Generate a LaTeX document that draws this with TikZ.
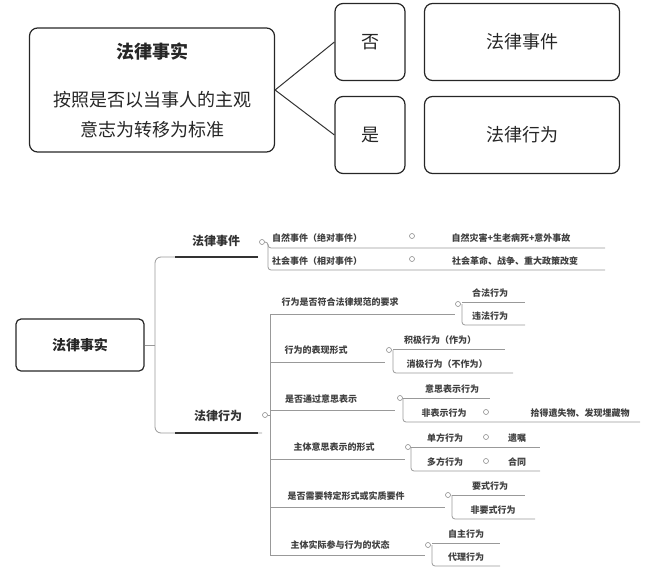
\documentclass[tikz,border=0pt]{standalone}
\usepackage{fontspec}
\setmainfont{Noto Sans CJK SC}
\begin{document}
\begin{tikzpicture}[x=1pt,y=-1pt,
  box/.style={draw=black!85,line width=1.2pt,rounded corners=8pt},
  big/.style={font=\fontsize{18}{20}\selectfont,text=black!85},
  sm/.style={font=\bfseries\fontsize{9}{10}\selectfont,text=black!75,inner sep=0pt},
  ln/.style={draw=black!40,line width=0.8pt,rounded corners=3pt},
  dot/.style={circle,draw=black!45,line width=0.6pt,minimum size=5pt,inner sep=0pt},
  hl/.style={draw=black!80,line width=2pt}]
\useasboundingbox (0,0) rectangle (651,581);
% top part
\node[box,minimum width=245pt,minimum height=124pt] (fs) at (152,90) {};
\node[big,font=\bfseries\fontsize{18}{20}\selectfont] at (152,52) {法律事实};
\node[big] at (152,100) {按照是否以当事人的主观};
\node[big] at (152,130) {意志为转移为标准};
\node[box,minimum width=70pt,minimum height=77pt,big] (no) at (370,42) {否};
\node[box,minimum width=70pt,minimum height=77pt,big] (yes) at (370,135) {是};
\node[box,minimum width=195pt,minimum height=77pt,big] (ev) at (522,42) {法律事件};
\node[box,minimum width=195pt,minimum height=77pt,big] (ac) at (522,135) {法律行为};
\draw[black!80,line width=1pt] (fs.east) -- (no.west);
\draw[black!80,line width=1pt] (fs.east) -- (yes.west);
% bottom root
\node[draw=black!85,line width=1.2pt,rounded corners=5pt,minimum width=128pt,minimum height=52pt,
  font=\bfseries\fontsize{14}{16}\selectfont,text=black!85] (root) at (80,345) {法律事实};
\draw[ln,rounded corners=6pt] (258,257) -- (155,257) -- (155,433) -- (262,433);
\draw[ln] (root.east) -- (155,345);
\node[font=\bfseries\fontsize{12}{13}\selectfont,text=black!80] (le) at (216,241) {法律事件};
\node[font=\bfseries\fontsize{12}{13}\selectfont,text=black!80] (la) at (218,416) {法律行为};
\draw[hl] (175,257) -- (258,257);
\draw[hl] (175,433) -- (258,433);
\node[dot] (c1) at (262,242) {};
\node[dot] (c2) at (265,415) {};
% events
\draw[ln] (c1) -- (268,242) -- (268,248) -- (605,248);
\draw[ln] (268,244) -- (268,270) -- (605,270);
\node[sm] at (317,238) {自然事件（绝对事件）};
\node[sm] at (317,261) {社会事件（相对事件）};
\node[dot] at (412,236) {};
\node[dot] at (412,259) {};
\node[sm] at (511,238) {自然灾害+生老病死+意外事故};
\node[sm] at (515,261) {社会革命、战争、重大政策改变};
% acts main vertical
\draw[ln] (c2) -- (270,415);
\draw[ln] (270,314) -- (270,555);
\foreach \y/\x in {314/455,362/385,410/395,459/405,507/445,555/425} \draw[ln] (270,\y) -- (\x,\y);
\node[sm] at (340,302) {行为是否符合法律规范的要求};
\node[sm] at (316,350) {行为的表现形式};
\node[sm] at (321,399) {是否通过意思表示};
\node[sm] at (334,447) {主体意思表示的形式};
\node[sm] at (346,496) {是否需要特定形式或实质要件};
\node[sm] at (340,545) {主体实际参与行为的状态};
% sub branches
\foreach \cx/\cy/\vx/\ya/\xa/\yb/\xb in {
  458/304/462/302/525/325/525,
  389/350/393/349/505/373/513,
  400/398/403/398/490/422/640,
  408/447/411/447/540/471/540,
  448/495/452/495/525/519/535,
  428/545/432/543/500/566/500}{
  \node[dot] at (\cx,\cy) {};
  \draw[ln] (\vx,\ya) -- (\xa,\ya);
  \draw[ln] (\vx,\cy) -- (\vx,\yb) -- (\xb,\yb);
}
\node[sm] at (490,293) {合法行为};
\node[sm] at (490,316) {违法行为};
\node[sm] at (440,340) {积极行为（作为）};
\node[sm] at (447,364) {消极行为（不作为）};
\node[sm] at (452,389) {意思表示行为};
\node[sm] at (444,413) {非表示行为};
\node[dot] at (486,412) {};
\node[sm] at (580,413) {拾得遗失物、发现埋藏物};
\node[sm] at (445,438) {单方行为};
\node[dot] at (486,437) {};
\node[sm] at (517,438) {遗嘱};
\node[sm] at (445,462) {多方行为};
\node[dot] at (486,461) {};
\node[sm] at (517,462) {合同};
\node[sm] at (490,486) {要式行为};
\node[sm] at (493,510) {非要式行为};
\node[sm] at (466,534) {自主行为};
\node[sm] at (466,557) {代理行为};
\end{tikzpicture}
\end{document}
